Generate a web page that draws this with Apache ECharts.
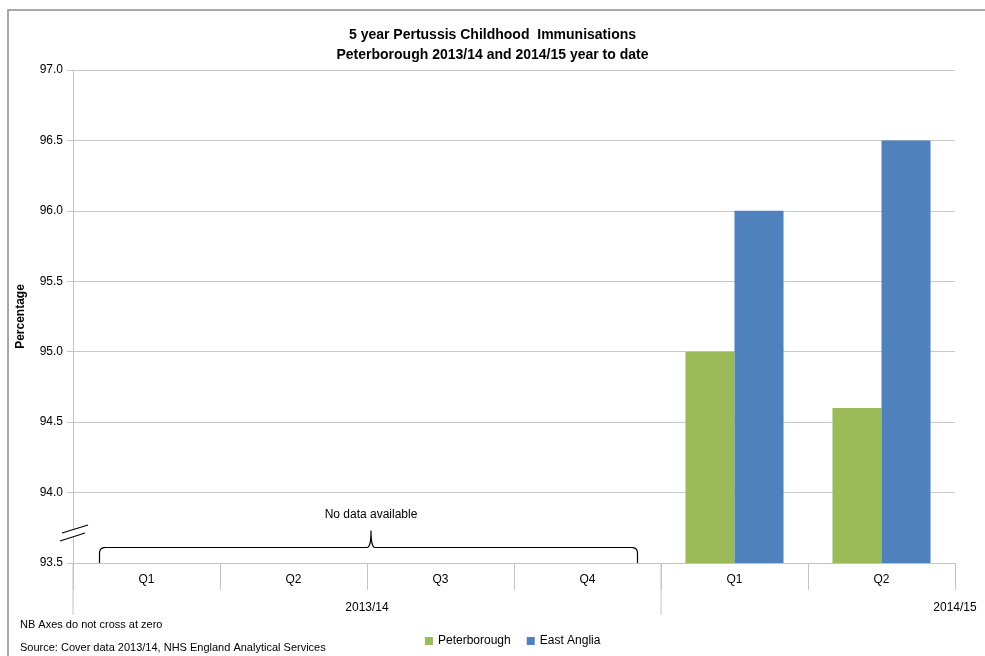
<!DOCTYPE html>
<html><head><meta charset="utf-8">
<script src="https://cdn.jsdelivr.net/npm/echarts@6/dist/echarts.min.js"></script>
<style>html,body{margin:0;padding:0;background:#fff}#c{width:985px;height:656px}</style>
</head><body><div id="c"></div>
<script>
const quarters = ['Q1','Q2','Q3','Q4','Q1','Q2'];
const years = ['2013/14','2014/15'];
const yearSpans = [4, 2];
const peterborough = [null, null, null, null, 95.0, 94.6];
const eastAnglia = [null, null, null, null, 96.0, 96.5];
const yMin = 93.5, yMax = 97.0, yStep = 0.5;
const titleLines = ['5 year Pertussis Childhood  Immunisations', 'Peterborough 2013/14 and 2014/15 year to date'];
const noDataText = 'No data available';
const notes = ['NB Axes do not cross at zero', 'Source: Cover data 2013/14, NHS England Analytical Services'];

const FONT = '"Liberation Sans Narrow", "Liberation Sans", sans-serif';
const AX = '#c4c4c4';
const chart = echarts.init(document.getElementById('c'));
chart.setOption({
  animation: false,
  textStyle: {fontFamily: FONT},
  title: {text: titleLines.join('\n'), left: 'center', top: 20,
    textStyle: {fontFamily: FONT, fontSize: 14, fontWeight: 'bold', color: '#000', lineHeight: 20}},
  grid: {left: 73, right: 30, top: 70, bottom: 93},
  legend: {left: 420, top: 630, icon: 'rect', itemWidth: 8, itemHeight: 8, itemGap: 16,
    textStyle: {fontFamily: FONT, fontSize: 12, color: '#000'}},
  xAxis: {type: 'category', data: quarters, boundaryGap: true,
    axisLine: {lineStyle: {color: AX}},
    axisTick: {show: true, length: 27, interval: 0, lineStyle: {color: AX}},
    axisLabel: {interval: 0, margin: 11, fontSize: 12, color: '#000', fontFamily: FONT}},
  yAxis: {type: 'value', min: yMin, max: yMax, interval: yStep,
    name: 'Percentage', nameLocation: 'middle', nameGap: 46, nameRotate: 90,
    nameTextStyle: {fontFamily: FONT, fontSize: 12, fontWeight: 'bold', color: '#000'},
    axisLine: {show: true, lineStyle: {color: AX}},
    axisTick: {show: true, length: 6, lineStyle: {color: AX}},
    axisLabel: {formatter: v => v.toFixed(1), fontSize: 12, color: '#000', margin: 10, fontFamily: FONT},
    splitLine: {lineStyle: {color: '#c8c8c8'}}},
  series: [
    {name: 'Peterborough', type: 'bar', data: peterborough, barGap: '0%', barCategoryGap: '33.3%', itemStyle: {color: '#9BBB59'}},
    {name: 'East Anglia', type: 'bar', data: eastAnglia, barGap: '0%', barCategoryGap: '33.3%', itemStyle: {color: '#4F81BD'}}
  ]
});

function px(i, v) { return chart.convertToPixel({gridIndex: 0}, [i, v]); }
const c0 = px(0, yMin), c1 = px(1, yMin);
const band = c1[0] - c0[0];
const bottomY = c0[1];
const left = c0[0] - band / 2;
const graphics = [];
graphics.push({type: 'rect', shape: {x: 8, y: 10, width: 1000, height: 700}, style: {fill: null, stroke: '#8a8a8a', lineWidth: 1.5}, silent: true, z: 0});
let start = 0;
const bounds = [left];
yearSpans.forEach(s => { start += s; bounds.push(left + start * band); });
const yearLabelY = bottomY + 45;
graphics.push({type: 'line', shape: {x1: bounds[0], y1: bottomY, x2: bounds[0], y2: bottomY + 52}, style: {stroke: AX, lineWidth: 1}});
graphics.push({type: 'line', shape: {x1: bounds[1], y1: bottomY, x2: bounds[1], y2: bottomY + 52}, style: {stroke: AX, lineWidth: 1}});
graphics.push({type: 'text', x: (bounds[0] + bounds[1]) / 2, y: yearLabelY, style: {text: years[0], fontFamily: FONT, fontSize: 12, fill: '#000', textAlign: 'center', textVerticalAlign: 'middle'}});
graphics.push({type: 'text', x: bounds[2], y: yearLabelY, style: {text: years[1], fontFamily: FONT, fontSize: 12, fill: '#000', textAlign: 'center', textVerticalAlign: 'middle'}});
// brace over the no-data quarters
const bx0 = px(0, yMin)[0] - band / 3 + 2, bx1 = px(3, yMin)[0] + band / 3 + 1, bxm = (bounds[0] + bounds[1]) / 2 + 4;
const yh = px(0, 93.61)[1], yp = px(0, 93.73)[1], r = 6;
function quad(p0, p1, p2, n) {
  const out = [];
  for (let k = 1; k <= n; k++) {
    const t = k / n, u = 1 - t;
    out.push([u*u*p0[0] + 2*u*t*p1[0] + t*t*p2[0], u*u*p0[1] + 2*u*t*p1[1] + t*t*p2[1]]);
  }
  return out;
}
let pts = [[bx0, bottomY], [bx0, yh + r]];
pts = pts.concat(quad([bx0, yh + r], [bx0, yh], [bx0 + r, yh], 8));
pts.push([bxm - 4, yh]);
pts = pts.concat(quad([bxm - 4, yh], [bxm, yh], [bxm, yp], 8));
pts = pts.concat(quad([bxm, yp], [bxm, yh], [bxm + 4, yh], 8));
pts.push([bx1 - r, yh]);
pts = pts.concat(quad([bx1 - r, yh], [bx1, yh], [bx1, yh + r], 8));
pts.push([bx1, bottomY]);
graphics.push({type: 'polyline', shape: {points: pts}, style: {fill: null, stroke: '#000', lineWidth: 1.2}, z: 10});
graphics.push({type: 'text', x: bxm, y: px(0, 93.84)[1], style: {text: noDataText, fontFamily: FONT, fontSize: 12, fill: '#000', textAlign: 'center', textVerticalAlign: 'middle'}});
// axis break symbol
graphics.push({type: 'polygon', shape: {points: [[62, 533], [88, 525], [85, 533], [60, 541]]}, style: {fill: '#fff'}, z: 10});
graphics.push({type: 'line', shape: {x1: 62, y1: 533, x2: 88, y2: 525}, style: {stroke: '#000', lineWidth: 1.3}, z: 11});
graphics.push({type: 'line', shape: {x1: 60, y1: 541, x2: 85, y2: 533}, style: {stroke: '#000', lineWidth: 1.3}, z: 11});
graphics.push({type: 'text', x: 20, y: 625, style: {text: notes[0], fontFamily: FONT, fontSize: 11, fill: '#000', textVerticalAlign: 'middle'}});
graphics.push({type: 'text', x: 20, y: 648, style: {text: notes[1], fontFamily: FONT, fontSize: 11, fill: '#000', textVerticalAlign: 'middle'}});
chart.setOption({graphic: graphics});
</script></body></html>
